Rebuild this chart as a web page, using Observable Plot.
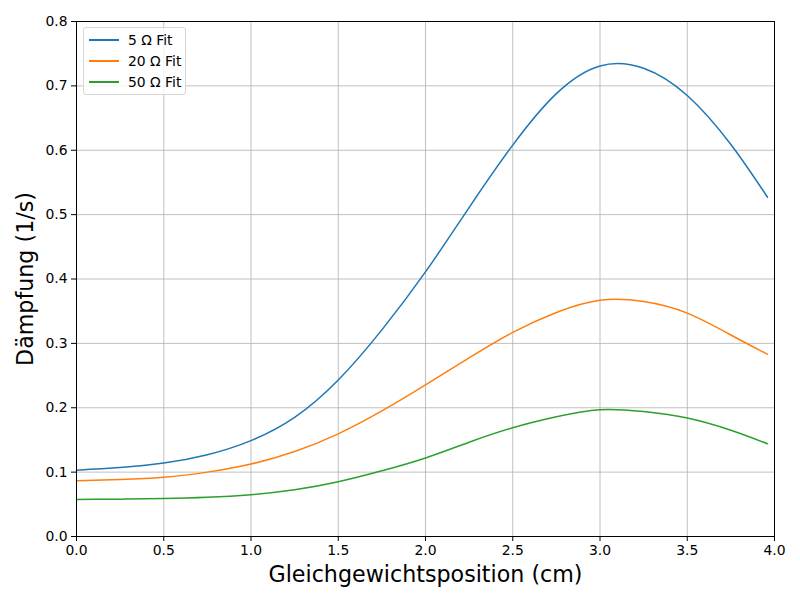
<!DOCTYPE html>
<html>
<head>
<meta charset="utf-8">
<script src="https://cdn.jsdelivr.net/npm/d3@7"></script>
<script src="https://cdn.jsdelivr.net/npm/@observablehq/plot@0.6"></script>
<style>
  body { margin: 0; background: #fff; font-family: "DejaVu Sans", sans-serif; }
  #wrap { position: relative; width: 800px; height: 600px; }
  #legend { position: absolute; left: 83px; top: 27px; width: 101px; height: 66px;
    border: 1px solid #d6d6d6; border-radius: 3px; background: rgba(255,255,255,0.8);
    font-size: 13.9px; color: #000; }
  .item { position: absolute; left: 5px; height: 16px; display: flex; align-items: center; }
  .sw { width: 30px; height: 2px; margin-right: 9px; }
</style>
</head>
<body>
<div id="wrap"><div id="chart"></div><div id="legend"></div></div>
<script>
const positions = [0, 0.25, 0.5, 0.75, 1.0, 1.25, 1.5, 1.75, 2.0, 2.25, 2.5, 2.75, 3.0, 3.25, 3.5, 3.75, 3.96];
const fit5  = [0.103, 0.107, 0.114, 0.127, 0.149, 0.185, 0.243, 0.321, 0.411, 0.511, 0.608, 0.688, 0.731, 0.7275, 0.685, 0.609, 0.527];
const fit20 = [0.0865, 0.0885, 0.092, 0.100, 0.1125, 0.132, 0.1595, 0.195, 0.2355, 0.2775, 0.317, 0.348, 0.367, 0.365, 0.347, 0.313, 0.283];
const fit50 = [0.0575, 0.058, 0.059, 0.061, 0.065, 0.0725, 0.085, 0.102, 0.122, 0.1465, 0.169, 0.186, 0.197, 0.194, 0.184, 0.165, 0.144];
const seriesNames = ["5 Ω Fit", "20 Ω Fit", "50 Ω Fit"];
const colors = ["#1f77b4", "#ff7f0e", "#2ca02c"];
const xTicks = [0, 0.5, 1, 1.5, 2, 2.5, 3, 3.5, 4];
const yTicks = [0, 0.1, 0.2, 0.3, 0.4, 0.5, 0.6, 0.7, 0.8];
const xLabel = "Gleichgewichtsposition (cm)";
const yLabel = "Dämpfung (1/s)";

const rows = [];
[fit5, fit20, fit50].forEach((ys, i) => {
  positions.forEach((x, j) => rows.push({series: seriesNames[i], x, y: ys[j]}));
});

const chart = Plot.plot({
  width: 800, height: 600,
  marginLeft: 76, marginRight: 26, marginTop: 21, marginBottom: 64,
  style: {fontFamily: "DejaVu Sans, sans-serif", fontSize: "13.9px", color: "#000"},
  x: {domain: [0, 4]},
  y: {domain: [0, 0.8]},
  color: {domain: seriesNames, range: colors},
  marks: [
    Plot.gridX(xTicks, {stroke: "#b0b0b0", strokeOpacity: 1, strokeWidth: 0.8}),
    Plot.gridY(yTicks, {stroke: "#b0b0b0", strokeOpacity: 1, strokeWidth: 0.8}),
    Plot.line(rows, {x: "x", y: "y", z: "series", stroke: "series", strokeWidth: 1.5, curve: "natural"}),
    Plot.frame({stroke: "#000", strokeWidth: 1}),
    Plot.axisX({ticks: xTicks, tickFormat: d3.format(".1f"), tickSize: 5, tickPadding: 4, label: null, fontSize: 13.9}),
    Plot.axisY({ticks: yTicks, tickFormat: d3.format(".1f"), tickSize: 5, tickPadding: 4, label: null, fontSize: 13.9}),
    Plot.text([xLabel], {text: d => d, frameAnchor: "bottom", dy: 38, fontSize: 22.2, lineAnchor: "middle", textAnchor: "middle"}),
    Plot.text([yLabel], {text: d => d, frameAnchor: "left", dx: -51, rotate: -90, fontSize: 22.2, lineAnchor: "middle", textAnchor: "middle"})
  ]
});
document.getElementById("chart").appendChild(chart);

const legend = document.getElementById("legend");
seriesNames.forEach((name, i) => {
  const item = document.createElement("div");
  item.className = "item";
  item.style.top = (4 + i * 21) + "px";
  item.innerHTML = `<div class="sw" style="background:${colors[i]}"></div><span>${name}</span>`;
  legend.appendChild(item);
});
</script>
</body>
</html>
